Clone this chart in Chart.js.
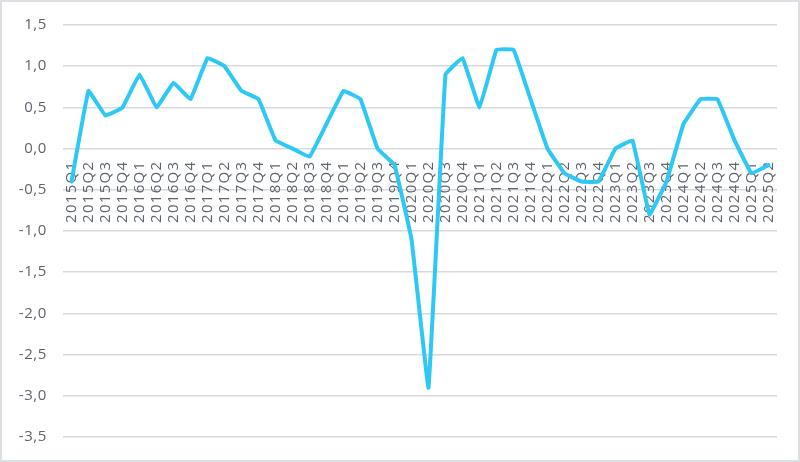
<!DOCTYPE html>
<html>
<head>
<meta charset="utf-8">
<script src="https://cdn.jsdelivr.net/npm/chart.js@4/dist/chart.umd.min.js"></script>
<style>
html,body{margin:0;padding:0;background:#fff;}
#wrap{position:relative;width:800px;height:462px;}
canvas{display:block;}
</style>
</head>
<body>
<div id="wrap"><canvas id="c" width="800" height="462"></canvas></div>
<script>
const categories = [
 "2015Q1","2015Q2","2015Q3","2015Q4",
 "2016Q1","2016Q2","2016Q3","2016Q4",
 "2017Q1","2017Q2","2017Q3","2017Q4",
 "2018Q1","2018Q2","2018Q3","2018Q4",
 "2019Q1","2019Q2","2019Q3","2019Q4",
 "2020Q1","2020Q2","2020Q3","2020Q4",
 "2021Q1","2021Q2","2021Q3","2021Q4",
 "2022Q1","2022Q2","2022Q3","2022Q4",
 "2023Q1","2023Q2","2023Q3","2023Q4",
 "2024Q1","2024Q2","2024Q3","2024Q4",
 "2025Q1","2025Q2"
];
const values = [
 -0.4, 0.7, 0.4, 0.5,
 0.9, 0.5, 0.8, 0.6,
 1.1, 1.0, 0.7, 0.6,
 0.1, 0.0, -0.1, 0.3,
 0.7, 0.6, 0.0, -0.2,
 -1.1, -2.9, 0.9, 1.1,
 0.5, 1.2, 1.2, 0.6,
 0.0, -0.3, -0.4, -0.4,
 0.0, 0.1, -0.8, -0.4,
 0.3, 0.6, 0.6, 0.1,
 -0.3, -0.2
];
const yMin = -3.5, yMax = 1.5, yStep = 0.5;

const FONT = "'Open Sans', sans-serif";
const TXT = "#5f656d";

const frame = {
  id: 'frame',
  afterDraw(chart) {
    const ctx = chart.ctx;
    ctx.save();
    ctx.strokeStyle = '#dcdfe3';
    ctx.lineWidth = 2;
    ctx.strokeRect(1, 1, chart.width - 2, chart.height - 2);
    ctx.restore();
  }
};

function spaced(scale, px) {
  if (scale._spacedPatched) return;
  const orig = scale.drawLabels;
  scale.drawLabels = function (area) {
    const ctx = this.ctx;
    ctx.save();
    ctx.letterSpacing = px;
    orig.call(this, area);
    ctx.restore();
  };
  scale._spacedPatched = true;
}

new Chart(document.getElementById('c'), {
  type: 'line',
  data: {
    labels: categories,
    datasets: [{
      data: values,
      borderColor: '#2ec8f5',
      backgroundColor: '#2ec8f5',
      borderWidth: 4,
      pointRadius: 0,
      tension: 0.06,
      borderCapStyle: 'round',
      borderJoinStyle: 'round'
    }]
  },
  options: {
    responsive: false,
    animation: false,
    layout: { padding: { top: 14, right: 23, bottom: 16, left: 0 } },
    plugins: { legend: { display: false }, tooltip: { enabled: false } },
    scales: {
      x: {
        type: 'category',
        offset: true,
        position: { y: 0 },
        grid: { display: false, drawTicks: false },
        border: { display: false },
        afterUpdate(scale) { spaced(scale, '1.3px'); },
        ticks: {
          autoSkip: false,
          maxRotation: 90,
          minRotation: 90,
          padding: 12,
          color: TXT,
          font: { family: FONT, size: 15 }
        }
      },
      y: {
        min: yMin,
        max: yMax,
        grid: { color: '#d6d9dd', lineWidth: 1.5, drawTicks: false },
        border: { display: false },
        afterFit(scale) { scale.width = 63; },
        afterUpdate(scale) { spaced(scale, '0.6px'); },
        ticks: {
          stepSize: yStep,
          padding: 16,
          color: TXT,
          font: { family: FONT, size: 15 },
          callback: v => v.toFixed(1).replace('.', ',')
        }
      }
    }
  },
  plugins: [frame]
});
</script>
</body>
</html>
